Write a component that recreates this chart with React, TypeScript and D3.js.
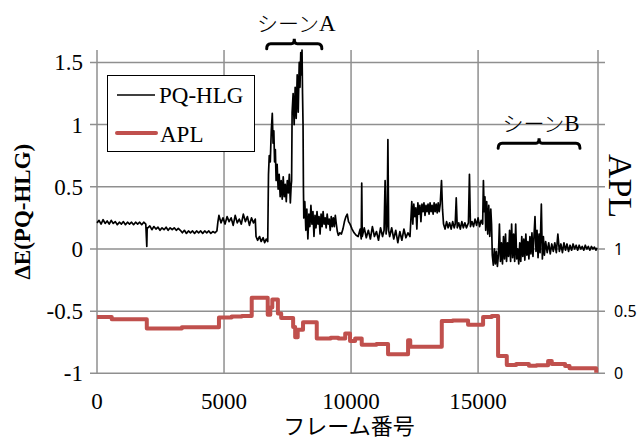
import React from 'react';
import * as d3 from 'd3';

// ---------- data ----------
const xTicks = [0, 5000, 10000, 15000];
const xTickLabels = ['0', '5000', '10000', '15000'];
const yTicks = [-1, -0.5, 0, 0.5, 1, 1.5];
const yTickLabels = ['-1', '-0.5', '0', '0.5', '1', '1.5'];
const aplTicks = [0, 0.5, 1];
const aplTickLabels = ['0', '0.5', '1'];

const seriesNames = ['PQ-HLG', 'APL'];

// [frame, ΔE(PQ-HLG)]
const pqHlg: [number, number][] = [
  [0, 0.21], [80, 0.23], [160, 0.2], [240, 0.235], [320, 0.205], [400, 0.225], [480, 0.2], [560, 0.23],
  [640, 0.205], [720, 0.22], [800, 0.195], [880, 0.215], [960, 0.2], [1040, 0.22], [1120, 0.195], [1200, 0.215],
  [1280, 0.2], [1360, 0.215], [1440, 0.195], [1520, 0.215], [1600, 0.2], [1680, 0.215], [1760, 0.195], [1840, 0.215],
  [1920, 0.2], [1960, 0.02], [1975, 0.17],
  [2000, 0.17], [2080, 0.185], [2160, 0.155], [2240, 0.18], [2320, 0.16], [2400, 0.175], [2480, 0.15], [2560, 0.17],
  [2640, 0.155], [2720, 0.175], [2800, 0.15], [2880, 0.17], [2960, 0.155], [3040, 0.17], [3120, 0.15], [3200, 0.165],
  [3280, 0.15],
  [3360, 0.13], [3440, 0.15], [3520, 0.125], [3600, 0.145], [3680, 0.13], [3760, 0.145], [3840, 0.125], [3920, 0.145],
  [4000, 0.13], [4080, 0.145], [4160, 0.125], [4240, 0.145], [4320, 0.13], [4400, 0.145], [4480, 0.125], [4560, 0.14],
  [4640, 0.13], [4720, 0.145],
  [4760, 0.22], [4800, 0.27], [4880, 0.21], [4960, 0.25], [5040, 0.2], [5120, 0.26], [5200, 0.22], [5280, 0.25],
  [5360, 0.19], [5440, 0.27], [5520, 0.21], [5600, 0.24], [5680, 0.2], [5760, 0.28], [5840, 0.22], [5920, 0.26],
  [6000, 0.19], [6080, 0.25], [6160, 0.21], [6230, 0.24],
  [6260, 0.1], [6320, 0.07], [6400, 0.1], [6460, 0.06], [6540, 0.09], [6600, 0.05], [6660, 0.08], [6720, 0.06],
  [6750, 0.6], [6780, 0.75], [6820, 0.7], [6860, 0.95], [6900, 1.09], [6930, 0.85], [6960, 0.95], [6990, 0.7],
  [7020, 0.8], [7050, 0.55], [7090, 0.68], [7130, 0.48], [7170, 0.6], [7210, 0.42], [7250, 0.55], [7290, 0.4],
  [7330, 0.58], [7370, 0.42], [7410, 0.52], [7450, 0.38], [7490, 0.55], [7530, 0.45], [7570, 0.6], [7610, 0.37],
  [7640, 0.5],
  [7660, 0.55], [7680, 1.1], [7720, 1.25], [7760, 1.0], [7800, 1.3], [7840, 1.05], [7880, 1.4], [7920, 1.1],
  [7960, 1.5], [7990, 1.3], [8020, 1.58], [8050, 1.4], [8070, 1.6], [8090, 1.25], [8110, 1.0], [8125, 0.5],
  [8140, 0.25], [8180, 0.38], [8220, 0.15], [8260, 0.32], [8300, 0.08], [8340, 0.28], [8380, 0.18], [8420, 0.35],
  [8460, 0.2], [8500, 0.3], [8540, 0.1], [8580, 0.27], [8620, 0.17], [8660, 0.3], [8700, 0.2], [8740, 0.26],
  [8780, 0.12], [8820, 0.28], [8860, 0.18], [8900, 0.3], [8940, 0.2], [8980, 0.25], [9020, 0.17], [9060, 0.28],
  [9100, 0.2], [9140, 0.24], [9180, 0.15], [9220, 0.26], [9260, 0.18], [9300, 0.25], [9340, 0.18], [9380, 0.27],
  [9420, 0.2], [9460, 0.14], [9500, 0.11], [9560, 0.13], [9620, 0.12], [9680, 0.16], [9740, 0.22], [9800, 0.26],
  [9850, 0.28], [9900, 0.22],
  [9960, 0.2], [10040, 0.16], [10120, 0.13], [10200, 0.11], [10280, 0.1], [10360, 0.16], [10400, 0.08], [10420, 0.53],
  [10440, 0.1], [10520, 0.17], [10600, 0.09], [10680, 0.15], [10760, 0.08], [10840, 0.18], [10920, 0.1], [11000, 0.14],
  [11080, 0.07], [11160, 0.17], [11240, 0.1], [11300, 0.15], [11340, 0.55], [11380, 0.12], [11420, 0.2], [11450, 0.88],
  [11480, 0.15], [11520, 0.1], [11600, 0.17], [11680, 0.08], [11760, 0.15], [11840, 0.05], [11920, 0.14], [12000, 0.07],
  [12080, 0.16], [12160, 0.09], [12240, 0.13], [12320, 0.1],
  [12390, 0.38], [12430, 0.2], [12470, 0.36], [12510, 0.26], [12550, 0.33], [12590, 0.16], [12630, 0.37], [12670, 0.28],
  [12710, 0.35], [12750, 0.22], [12790, 0.36], [12830, 0.3], [12870, 0.37], [12910, 0.27], [12950, 0.35], [12990, 0.3],
  [13030, 0.36], [13070, 0.28], [13110, 0.37], [13150, 0.3], [13190, 0.35], [13230, 0.28], [13270, 0.37], [13310, 0.3],
  [13350, 0.36], [13390, 0.29], [13430, 0.37], [13470, 0.3], [13510, 0.36], [13560, 0.55], [13600, 0.32],
  [13640, 0.2], [13700, 0.16], [13760, 0.22], [13820, 0.17], [13880, 0.21], [13940, 0.16], [14000, 0.22], [14060, 0.17],
  [14100, 0.2], [14140, 0.41], [14180, 0.17], [14240, 0.21], [14300, 0.16], [14360, 0.22], [14420, 0.17], [14480, 0.21],
  [14540, 0.17], [14620, 0.21], [14660, 0.6], [14700, 0.18], [14760, 0.22], [14820, 0.18], [14880, 0.24], [14940, 0.19],
  [15000, 0.25], [15060, 0.18], [15120, 0.23], [15180, 0.2],
  [15210, 0.55], [15240, 0.3], [15270, 0.42], [15300, 0.15], [15340, 0.38], [15380, 0.12], [15420, 0.35], [15460, 0.1],
  [15500, 0.32], [15530, 0.2],
  [15560, -0.05], [15600, -0.13], [15640, 0.0], [15680, -0.12], [15720, -0.02], [15760, -0.14], [15800, -0.05], [15840, 0.2],
  [15880, -0.1], [15920, 0.05], [15960, -0.12], [16000, 0.1], [16040, -0.08], [16080, 0.12], [16120, -0.1], [16160, 0.05],
  [16200, -0.06], [16240, 0.15], [16280, -0.1], [16320, 0.2], [16360, -0.07], [16400, 0.12], [16440, -0.1], [16480, 0.2],
  [16520, -0.08], [16560, 0.0], [16600, -0.12], [16640, 0.05],
  [16680, -0.1], [16720, 0.1], [16760, -0.06], [16800, 0.08], [16840, -0.09], [16880, 0.12], [16920, -0.05], [16960, 0.06],
  [17000, -0.08], [17040, 0.1], [17080, -0.04], [17120, 0.13], [17160, -0.06], [17200, 0.1], [17240, 0.26], [17280, -0.02],
  [17320, 0.15], [17360, -0.07], [17400, 0.12], [17440, -0.03], [17490, 0.36], [17530, -0.08], [17570, 0.1], [17610, -0.05],
  [17660, 0.06],
  [17720, -0.03], [17780, 0.05], [17840, -0.04], [17900, 0.04], [17960, -0.02], [18020, 0.05], [18080, -0.03], [18140, 0.12],
  [18200, -0.02], [18260, 0.04], [18320, -0.03], [18380, 0.05], [18440, -0.01], [18500, 0.04], [18560, -0.02], [18620, 0.03],
  [18680, -0.01], [18740, 0.04], [18800, 0.0], [18860, 0.03], [18920, -0.01], [18980, 0.03], [19040, 0.0], [19100, 0.02],
  [19160, -0.01], [19220, 0.03], [19280, 0.0], [19340, 0.02], [19400, -0.01], [19460, 0.02], [19520, 0.0], [19580, 0.015],
  [19640, -0.01], [19680, 0.01],
];

// [frame, APL]
const apl: [number, number][] = [
  [0, 0.453], [580, 0.434], [1960, 0.36], [3340, 0.37], [4800, 0.448], [5300, 0.456], [5700, 0.46],
  [6090, 0.608], [6720, 0.47], [6820, 0.53], [6900, 0.594], [7120, 0.48], [7250, 0.445], [7720, 0.373],
  [7800, 0.29], [7900, 0.35], [8110, 0.41], [8650, 0.28], [9200, 0.285], [9500, 0.28], [9770, 0.32],
  [9960, 0.26], [10160, 0.28], [10420, 0.23], [11000, 0.235], [11456, 0.154], [12244, 0.266], [12330, 0.213],
  [13571, 0.42], [14000, 0.425], [14606, 0.39], [15197, 0.453], [15539, 0.46], [15787, 0.14], [16130, 0.066],
  [16500, 0.075], [17000, 0.06], [17300, 0.065], [17756, 0.098], [17900, 0.075], [18425, 0.058], [18600, 0.04],
  [19528, 0.04], [19650, 0.005],
];

const scenes = [
  { name: 'シーン', tag: 'A', start: 6680, end: 8850, level: 1.65, labelLevel: 1.755 },
  { name: 'シーン', tag: 'B', start: 15790, end: 19010, level: 0.85, labelLevel: 0.945 },
];

// ---------- layout ----------
const W = 638;
const H = 440;
const left = 97;
const right = 598;
const top = 50;
const bottom = 373.3;
const xMax = 19720;

const GRID = '#8f8f8f';
const RED = '#c0504d';
const SERIF = 'Liberation Serif, Times New Roman, serif';
const CJK = 'Noto Sans CJK JP, sans-serif';

export default function App() {
  const x = d3.scaleLinear().domain([0, xMax]).range([left, right]);
  const y = d3.scaleLinear().domain([-1, 1.6]).range([bottom, top]);
  const yR = d3.scaleLinear().domain([0, 2.6]).range([bottom, top]);

  const pqLine = d3
    .line<[number, number]>()
    .x((d) => x(d[0]))
    .y((d) => y(d[1]));
  const aplLine = d3
    .line<[number, number]>()
    .x((d) => x(d[0]))
    .y((d) => yR(d[1]))
    .curve(d3.curveStepAfter);

  const bracket = (x0: number, x1: number, yb: number) => {
    const xc = (x0 + x1) / 2;
    const p = d3.path();
    p.moveTo(x0, yb + 5);
    p.quadraticCurveTo(x0, yb, x0 + 4, yb);
    p.lineTo(xc - 3, yb);
    p.quadraticCurveTo(xc, yb, xc, yb - 5);
    p.quadraticCurveTo(xc, yb, xc + 3, yb);
    p.lineTo(x1 - 4, yb);
    p.quadraticCurveTo(x1, yb, x1, yb + 5);
    return p.toString();
  };

  return (
    <svg
      width={W}
      height={H}
      viewBox={`0 0 ${W} ${H}`}
      style={{ position: 'absolute', left: 0, top: 0, background: '#fff' }}
    >
      <rect x={0} y={0} width={W} height={H} fill="#fff" />
      {yTicks.map((t) => (
        <line key={'h' + t} x1={left - 7} x2={right + 7} y1={y(t)} y2={y(t)} stroke={GRID} strokeWidth={1.5} />
      ))}
      {xTicks.map((t) => (
        <line key={'v' + t} x1={x(t)} x2={x(t)} y1={top} y2={bottom} stroke={GRID} strokeWidth={1.5} />
      ))}
      <line x1={right} x2={right} y1={top} y2={bottom} stroke={GRID} strokeWidth={1.5} />

      {yTicks.map((t, i) => (
        <text key={'yl' + t} x={left - 14} y={y(t) + 8} textAnchor="end" fontFamily={SERIF} fontSize={23} fill="#000">
          {yTickLabels[i]}
        </text>
      ))}
      {aplTicks.map((t, i) => (
        <text key={'yr' + t} x={right + 16} y={yR(t) + 6} textAnchor="start" fontFamily="Noto Sans, sans-serif" fontSize={16} fill="#000">
          {aplTickLabels[i]}
        </text>
      ))}
      {xTicks.map((t, i) => (
        <text key={'xl' + t} x={x(t)} y={409} textAnchor="middle" fontFamily={SERIF} fontSize={23} fill="#000">
          {xTickLabels[i]}
        </text>
      ))}

      <path d={aplLine(apl) || ''} fill="none" stroke={RED} strokeWidth={4} strokeLinejoin="round" />
      <path d={pqLine(pqHlg) || ''} fill="none" stroke="#000" strokeWidth={1.7} strokeLinejoin="round" />

      <text
        transform={`translate(30, ${(top + bottom) / 2}) rotate(-90)`}
        textAnchor="middle"
        fontFamily={SERIF}
        fontWeight="bold"
        fontSize={23}
        fill="#000"
      >
        ΔE(PQ-HLG)
      </text>
      <text
        transform={`translate(609, 186) rotate(90)`}
        textAnchor="middle"
        fontFamily={SERIF}
        fontSize={34}
        fill="#000"
      >
        APL
      </text>
      <text x={349} y={434} textAnchor="middle" fontFamily={CJK} fontSize={22} fill="#000">
        フレーム番号
      </text>

      {scenes.map((s) => (
        <g key={s.tag}>
          <path d={bracket(x(s.start), x(s.end), y(s.level))} fill="none" stroke="#000" strokeWidth={3} strokeLinecap="round" />
          <text x={x((s.start + s.end) / 2) + 2} y={y(s.labelLevel)} textAnchor="middle" fill="#000">
            <tspan fontFamily={CJK} fontSize={21} fontWeight={300}>{s.name}</tspan>
            <tspan fontFamily={SERIF} fontSize={23}>{s.tag}</tspan>
          </text>
        </g>
      ))}

      <g>
        <rect x={107.5} y={75.5} width={147} height={76} fill="#fff" stroke="#000" strokeWidth={1} />
        <line x1={117} x2={155} y1={95} y2={95} stroke="#000" strokeWidth={1.5} />
        <text x={159} y={103} fontFamily={SERIF} fontSize={23} fill="#000">{seriesNames[0]}</text>
        <line x1={117} x2={156} y1={133} y2={133} stroke={RED} strokeWidth={4} strokeLinecap="round" />
        <text x={160} y={142} fontFamily={SERIF} fontSize={23} fill="#000">{seriesNames[1]}</text>
      </g>
    </svg>
  );
}
